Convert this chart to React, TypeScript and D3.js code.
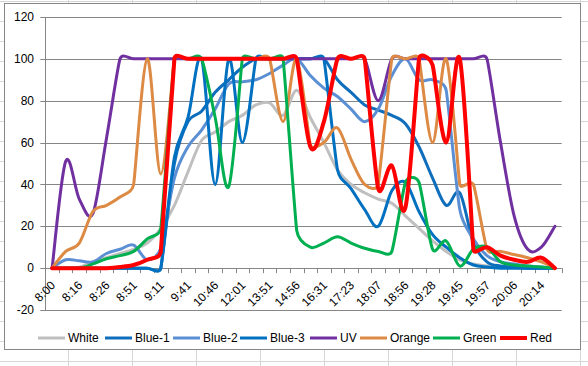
import React from "react";
import * as d3 from "d3";

// ---- data ----
const tickLabels = ["8:00","8:16","8:26","8:51","9:11","9:41","10:46","12:01","13:51","14:56","16:31","17:23","18:07","18:56","19:28","19:45","19:57","20:06","20:14"];
const categoryCount = 38; // one tick label every second category
const yTicks = [-20, 0, 20, 40, 60, 80, 100, 120];

const white = [0, 0, 0.5, 3, 5, 7, 9, 12, 19, 30, 46, 61, 65, 70, 73, 78, 79, 73, 85, 72, 60, 47, 40, 36, 33, 31, 25, 19, 13, 8, 4, 2, 1, 0.5, 0.3, 0.2, 0.1, 0];
const blue1 = [0, 0, 0, 0, 0, 0, 0, 0, 0, 50, 70, 75, 84, 90, 96, 100, 100, 100, 100, 100, 100, 90, 84, 78, 75.5, 73, 69, 58, 43, 30, 36, 12, 3, 1, 0.5, 0, 0, 0];
const blue2 = [0, 4, 3.5, 3, 7, 9, 11, 4, 9.5, 43, 58, 66, 76, 88, 89, 90, 93, 97, 100, 92, 86, 82, 76, 70, 76, 92, 100, 90, 90, 85, 28, 14, 6, 3, 2, 1, 0.5, 0];
const blue3 = [0, 0, 0, 0, 0, 0, 0, 0, 0, 53, 72, 100, 40, 100, 60, 100, 100, 100, 100, 100, 100, 47, 38, 28, 20, 37, 41, 27, 16, 10, 5, 1.5, 0.5, 0, 0, 0, 0, 0];
const uv = [0, 51, 33, 26, 62, 100, 100, 100, 100, 100, 100, 100, 100, 100, 100, 100, 100, 100, 100, 100, 100, 100, 100, 100, 80, 100, 100, 100, 100, 100, 100, 100, 100, 60, 25, 9, 10, 20];
const orange = [0, 8, 12, 27, 30, 34, 40, 100, 45, 100, 100, 100, 100, 100, 100, 100, 100, 70, 100, 59, 60, 67, 52, 40, 40, 100, 100, 100, 60, 100, 40, 40, 9, 8, 6.5, 5, 3, 0];
const green = [0, 0, 0, 2, 4.5, 6, 8, 14, 19, 100, 100, 100, 72, 39, 100, 100, 100, 100, 18, 10, 12, 15, 12, 9.5, 8, 8, 41, 41, 9, 13, 1, 9, 10, 3, 1.5, 1, 0.5, 0];
const red = [0, 0, 0, 0, 0, 0.5, 1.5, 4, 8, 100, 100, 100, 100, 100, 100, 100, 100, 100, 100, 58, 70, 100, 100, 100, 38, 49, 29, 100, 97, 60, 100, 9, 10, 6, 4, 3, 5, 0];

const seriesNames = ["White", "Blue-1", "Blue-2", "Blue-3", "UV", "Orange", "Green", "Red"];
const seriesValues = [white, blue1, blue2, blue3, uv, orange, green, red];
const seriesColors = ["#BFBFBF", "#0F6EBC", "#5B8FD4", "#0070C0", "#7030A0", "#DD8A44", "#00B050", "#FF0000"];
const seriesWidths = [3, 3, 3, 3, 3, 3, 3, 4];

// ---- layout ----
const W = 588, H = 366;
const plotL = 45.3, plotR = 561.7, plotT = 17, plotB = 310;
const legendX = [38, 105, 173, 240, 310, 360, 433, 500];
const legendY = 338;
const font = "'Liberation Sans', Arial, sans-serif";

// Spreadsheet-style smoothing: cubic Bezier with tangent (P[i+1]-P[i-1])/6,
// arm length limited to half the shorter adjacent chord.
function excelCurve(context: any) {
  let pts: [number, number][] = [];
  return {
    areaStart() {},
    areaEnd() {},
    lineStart() { pts = []; },
    point(x: number, y: number) { pts.push([x, y]); },
    lineEnd() {
      const n = pts.length;
      if (!n) return;
      const arms = pts.map((p, i) => {
        const a = pts[Math.max(0, i - 1)], b = pts[Math.min(n - 1, i + 1)];
        const dx = b[0] - a[0], dy = b[1] - a[1];
        const d02 = Math.hypot(dx, dy);
        if (!d02) return [0, 0];
        const d01 = Math.hypot(p[0] - a[0], p[1] - a[1]);
        const d12 = Math.hypot(b[0] - p[0], b[1] - p[1]);
        let arm = d02 / 6;
        const lim = Math.min(d01 || Infinity, d12 || Infinity) / 2;
        if (arm > lim) arm = lim;
        return [(dx / d02) * arm, (dy / d02) * arm];
      });
      context.moveTo(pts[0][0], pts[0][1]);
      for (let i = 0; i < n - 1; i++) {
        const p = pts[i], q = pts[i + 1];
        context.bezierCurveTo(p[0] + arms[i][0], p[1] + arms[i][1], q[0] - arms[i + 1][0], q[1] - arms[i + 1][1], q[0], q[1]);
      }
    },
  };
}

export default function App() {
  const x = d3.scaleBand<number>().domain(d3.range(categoryCount)).range([plotL, plotR]);
  const bw = x.bandwidth();
  const cx = (i: number) => (x(i) as number) + bw / 2;
  const y = d3.scaleLinear().domain([-20, 120]).range([plotB, plotT]);
  const line = d3.line<number>().x((_, i) => cx(i)).y((v) => y(v)).curve(excelCurve as any);

  const cols = d3.range(68, 581, 64);
  const rows = d3.range(0, 19).map((k) => 20 * k + 1.5);
  const y0 = y(0);

  return (
    <svg width={W} height={H} style={{ position: "absolute", left: 0, top: 0 }} fontFamily={font}>
      <rect x={0} y={0} width={W} height={H} fill="#fff" />
      {rows.map((r) => (
        <line key={"r" + r} x1={0} x2={W} y1={r} y2={r} stroke="#D6D6D6" strokeWidth={1} />
      ))}
      {cols.map((c) => (
        <line key={"c" + c} x1={c + 0.5} x2={c + 0.5} y1={0} y2={H} stroke="#D6D6D6" strokeWidth={1} />
      ))}
      <rect x={4.5} y={3.5} width={576} height={346} fill="#fff" stroke="#868686" strokeWidth={1} />
      {yTicks.map((t) => (
        <g key={t}>
          <line x1={plotL - 5} x2={plotR} y1={Math.round(y(t)) + 0.5} y2={Math.round(y(t)) + 0.5} stroke="#868686" strokeWidth={1} />
          <text x={34} y={y(t)} dy="0.35em" textAnchor="end" fontSize={12} fill="#000">{t}</text>
        </g>
      ))}
      <line x1={Math.round(plotL) + 0.5} x2={Math.round(plotL) + 0.5} y1={plotT} y2={plotB} stroke="#868686" strokeWidth={1} />
      {d3.range(categoryCount + 1).map((k) => {
        const px = Math.round(plotL + k * bw) + 0.5;
        return <line key={"t" + k} x1={px} x2={px} y1={y0} y2={y0 + 5} stroke="#868686" strokeWidth={1} />;
      })}
      {tickLabels.map((lab, j) => {
        const i = j * 2;
        return (
          <text key={lab} transform={`translate(${cx(i) + 1},${283}) rotate(-45)`} textAnchor="end" dy="0.35em" fontSize={12} fill="#000">
            {lab}
          </text>
        );
      })}
      {seriesValues.map((vals, s) => (
        <path key={seriesNames[s]} d={line(vals) || ""} fill="none" stroke={seriesColors[s]} strokeWidth={seriesWidths[s]} strokeLinejoin="round" strokeLinecap="round" />
      ))}
      {seriesNames.map((n, s) => (
        <g key={"lg" + n}>
          <line x1={legendX[s]} x2={legendX[s] + 27} y1={legendY} y2={legendY} stroke={seriesColors[s]} strokeWidth={seriesWidths[s]} />
          <text x={legendX[s] + 30} y={legendY} dy="0.35em" fontSize={12} fill="#000">{n}</text>
        </g>
      ))}
    </svg>
  );
}
